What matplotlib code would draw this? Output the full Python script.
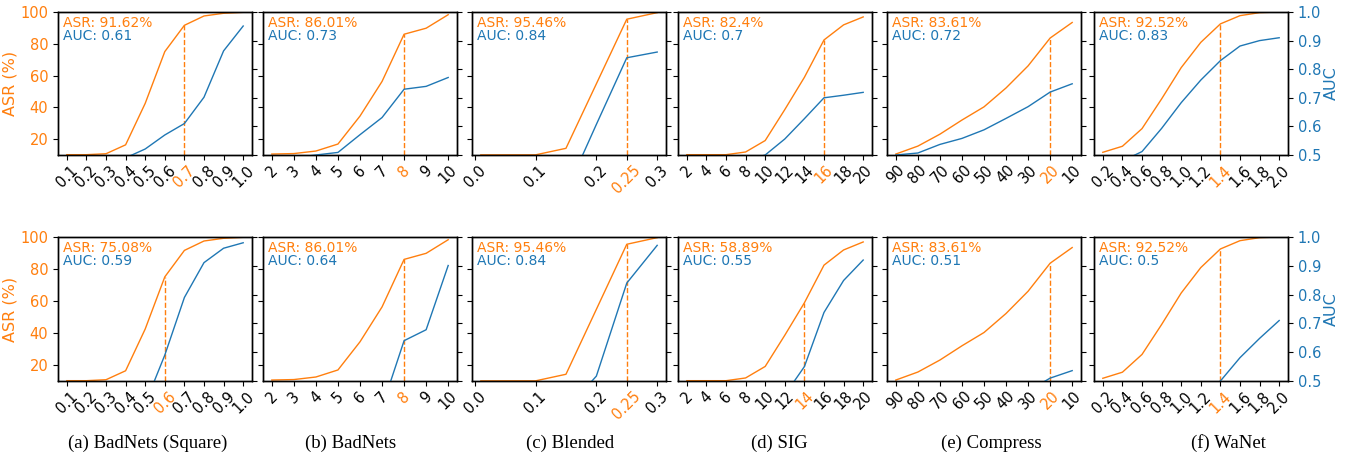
import matplotlib
matplotlib.use("Agg")
import matplotlib.pyplot as plt

C_ASR = "#ff7f0e"
C_AUC = "#1f77b4"

# ---------------- data ----------------
a_x = [0.1, 0.2, 0.3, 0.4, 0.5, 0.6, 0.7, 0.8, 0.9, 1.0]
a_ticks = ["0.1", "0.2", "0.3", "0.4", "0.5", "0.6", "0.7", "0.8", "0.9", "1.0"]
a_asr = [10.2, 10.2, 10.8, 16.4, 42.5, 75.08, 91.62, 97.5, 99.2, 99.8]
a_auc_top = [0.44, 0.46, 0.48, 0.49, 0.521, 0.570, 0.61, 0.702, 0.864, 0.951]
a_auc_bot = [0.30, 0.33, 0.36, 0.39, 0.421, 0.59, 0.790, 0.911, 0.961, 0.980]

b_x = [2, 3, 4, 5, 6, 7, 8, 9, 10]
b_ticks = ["2", "3", "4", "5", "6", "7", "8", "9", "10"]
b_asr = [10.6, 10.9, 12.5, 16.9, 34.5, 56.3, 86.01, 89.8, 98.3]
b_auc_top = [0.47, 0.49, 0.50, 0.509, 0.571, 0.631, 0.73, 0.740, 0.771]
b_auc_bot = [0.30, 0.32, 0.34, 0.36, 0.38, 0.409, 0.64, 0.678, 0.901]

c_x = [0.01, 0.05, 0.1, 0.15, 0.2, 0.25, 0.3]
c_tick_pos = [0.0, 0.1, 0.2, 0.25, 0.3]
c_ticks = ["0.0", "0.1", "0.2", "0.25", "0.3"]
c_asr = [10.1, 10.1, 10.1, 14.2, 54.8, 95.46, 99.6]
c_auc_top = [0.30, 0.31, 0.33, 0.37, 0.607, 0.84, 0.860]
c_auc_bot = [0.30, 0.32, 0.35, 0.40, 0.517, 0.84, 0.971]

d_x = [2, 4, 6, 8, 10, 12, 14, 16, 18, 20]
d_ticks = ["2", "4", "6", "8", "10", "12", "14", "16", "18", "20"]
d_asr = [10.2, 10.2, 10.2, 11.9, 19.1, 38.6, 58.89, 82.4, 91.9, 96.9]
d_auc_top = [0.42, 0.44, 0.46, 0.48, 0.50, 0.556, 0.627, 0.70, 0.709, 0.719]
d_auc_bot = [0.35, 0.37, 0.39, 0.41, 0.43, 0.452, 0.55, 0.738, 0.849, 0.920]

e_x = [90, 80, 70, 60, 50, 40, 30, 20, 10]
e_ticks = ["90", "80", "70", "60", "50", "40", "30", "20", "10"]
e_asr = [10.6, 15.6, 23.1, 32.0, 40.3, 52.2, 66.1, 83.61, 93.4]
e_auc_top = [0.50, 0.507, 0.537, 0.558, 0.588, 0.628, 0.669, 0.72, 0.749]
e_auc_bot = [0.38, 0.40, 0.42, 0.43, 0.44, 0.45, 0.465, 0.51, 0.536]

f_x = [0.2, 0.4, 0.6, 0.8, 1.0, 1.2, 1.4, 1.6, 1.8, 2.0]
f_ticks = ["0.2", "0.4", "0.6", "0.8", "1.0", "1.2", "1.4", "1.6", "1.8", "2.0"]
f_asr = [11.7, 15.5, 26.6, 45.3, 65.0, 80.9, 92.52, 97.7, 99.6, 100.0]
f_auc_top = [0.46, 0.479, 0.512, 0.593, 0.683, 0.762, 0.83, 0.881, 0.900, 0.910]
f_auc_bot = [0.35, 0.37, 0.39, 0.41, 0.43, 0.46, 0.50, 0.581, 0.648, 0.710]

# selected x per panel (top row, bottom row)
sel_top = [0.7, 8, 0.25, 16, 20, 1.4]
sel_bot = [0.6, 8, 0.25, 14, 20, 1.4]

captions = ["(a) BadNets (Square)", "(b) BadNets", "(c) Blended", "(d) SIG",
            "(e) Compress", "(f) WaNet"]

panels = [
    (a_x, a_x, a_ticks, a_asr, a_auc_top, a_auc_bot),
    (b_x, b_x, b_ticks, b_asr, b_auc_top, b_auc_bot),
    (c_x, c_tick_pos, c_ticks, c_asr, c_auc_top, c_auc_bot),
    (d_x, d_x, d_ticks, d_asr, d_auc_top, d_auc_bot),
    (e_x, e_x, e_ticks, e_asr, e_auc_top, e_auc_bot),
    (f_x, f_x, f_ticks, f_asr, f_auc_top, f_auc_bot),
]

# ---------------- layout ----------------
W, H = 1353, 459
fig = plt.figure(figsize=(W / 100, H / 100), dpi=100)

lefts_px = [58, 263, 472, 678, 887, 1094]
width_px = 194
rows = [(12, 155), (237, 381)]
cap_centers_px = [148, 351, 570, 779, 991, 1228]

for r, (top_px, bot_px) in enumerate(rows):
    for c, (xs, tpos, tlabels, asr, auc_top, auc_bot) in enumerate(panels):
        auc = auc_top if r == 0 else auc_bot
        sel = sel_top[c] if r == 0 else sel_bot[c]
        rect = [lefts_px[c] / W, 1 - bot_px / H, width_px / W, (bot_px - top_px) / H]
        ax = fig.add_axes(rect)
        tw = ax.twinx()
        for sp in list(ax.spines.values()) + list(tw.spines.values()):
            sp.set_linewidth(1.0)

        ax.plot(xs, asr, color=C_ASR, lw=1.0)
        tw.plot(xs, auc, color=C_AUC, lw=1.0)

        idx = xs.index(sel)
        ax.plot([sel, sel], [10, asr[idx]], color=C_ASR, lw=1.0, ls="--")

        ax.set_ylim(10, 100)
        tw.set_ylim(0.5, 1.0)
        ax.set_yticks([20, 40, 60, 80, 100])
        tw.set_yticks([0.5, 0.6, 0.7, 0.8, 0.9, 1.0])
        ax.set_xticks(tpos)
        ax.set_xticklabels(tlabels, rotation=45, fontsize=10.5)
        ax.tick_params(axis="x", pad=2)
        if xs[0] > xs[-1]:
            ax.invert_xaxis()
        for lab, p in zip(ax.get_xticklabels(), tpos):
            if p == sel:
                lab.set_color(C_ASR)

        if c == 0:
            ax.tick_params(axis="y", labelsize=10.5, labelcolor=C_ASR)
            ax.set_ylabel("ASR (%)", color=C_ASR, fontsize=11.5, labelpad=2)
        else:
            ax.tick_params(axis="y", labelleft=False)
        if c == 5:
            tw.tick_params(axis="y", labelsize=10.5, labelcolor=C_AUC)
            tw.set_ylabel("AUC", color=C_AUC, fontsize=11.5, labelpad=2)
        else:
            tw.tick_params(axis="y", labelright=False)

        ax.text(0.026, 0.897, f"ASR: {asr[idx]:g}%", transform=ax.transAxes,
                color=C_ASR, fontsize=10, va="baseline", ha="left")
        ax.text(0.026, 0.806, f"AUC: {round(auc[idx], 2):g}", transform=ax.transAxes,
                color=C_AUC, fontsize=10, va="baseline", ha="left")

for c, cap in enumerate(captions):
    fig.text(cap_centers_px[c] / W, 1 - 443 / H, cap, ha="center", va="center",
             fontsize=13.5, family="Liberation Serif")

fig.savefig("out.png", dpi=100)
